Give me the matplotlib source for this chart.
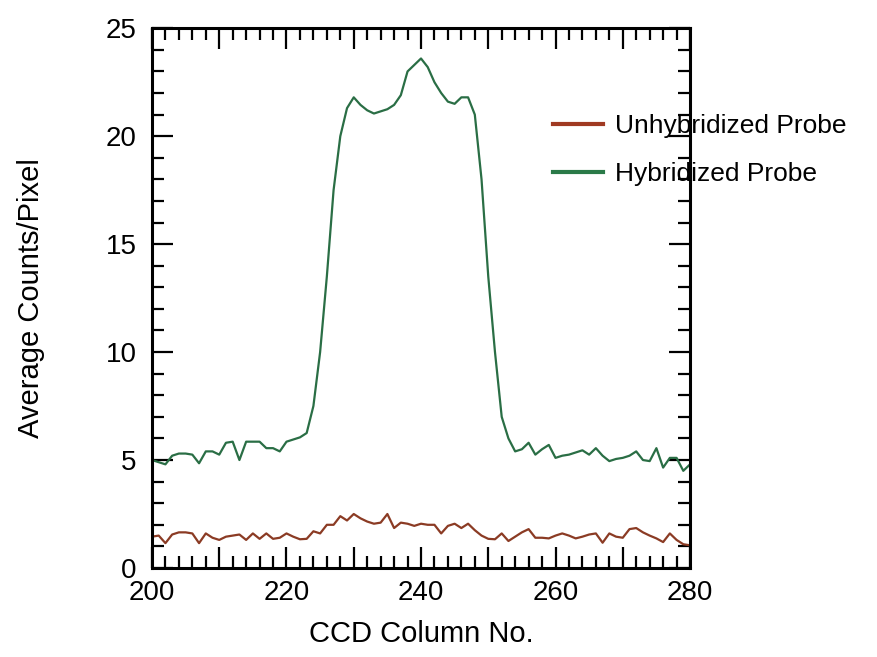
import matplotlib
matplotlib.use('Agg')
import matplotlib.pyplot as plt
from matplotlib.ticker import MultipleLocator, FuncFormatter

# CCD column positions and average counts per pixel
columns = list(range(200, 281))

hybridized = [
    5.0, 4.9, 4.8, 5.2, 5.3, 5.3, 5.25, 4.85, 5.4, 5.4,
    5.25, 5.8, 5.85, 5.0, 5.85, 5.85, 5.85, 5.55, 5.55, 5.4,
    5.85, 5.95, 6.05, 6.25, 7.5, 10.0, 13.5, 17.5, 20.0, 21.3,
    21.8, 21.45, 21.2, 21.05, 21.15, 21.25, 21.45, 21.9, 23.0, 23.3,
    23.6, 23.2, 22.5, 22.0, 21.6, 21.5, 21.8, 21.8, 21.0, 18.0,
    13.5, 10.0, 7.0, 6.0, 5.4, 5.5, 5.8, 5.25, 5.5, 5.7,
    5.1, 5.2, 5.25, 5.35, 5.45, 5.25, 5.55, 5.2, 4.95, 5.05,
    5.1, 5.2, 5.4, 5.0, 4.95, 5.55, 4.65, 5.1, 5.1, 4.5,
    4.8,
]

unhybridized = [
    1.45, 1.5, 1.15, 1.55, 1.65, 1.65, 1.6, 1.15, 1.6, 1.4,
    1.3, 1.45, 1.5, 1.55, 1.3, 1.6, 1.35, 1.6, 1.35, 1.4,
    1.6, 1.45, 1.33, 1.35, 1.7, 1.6, 2.0, 2.0, 2.4, 2.2,
    2.5, 2.3, 2.15, 2.05, 2.1, 2.5, 1.85, 2.1, 2.05, 1.95,
    2.05, 2.0, 2.0, 1.6, 1.95, 2.05, 1.85, 2.05, 1.75, 1.5,
    1.35, 1.33, 1.6, 1.25, 1.45, 1.65, 1.8, 1.4, 1.4, 1.37,
    1.5, 1.6, 1.5, 1.37, 1.45, 1.55, 1.6, 1.17, 1.6, 1.45,
    1.4, 1.8, 1.85, 1.65, 1.5, 1.37, 1.2, 1.6, 1.3, 1.1,
    1.05,
]

plt.rcParams['font.family'] = ['Liberation Sans', 'DejaVu Sans']

fig = plt.figure(figsize=(8.77, 6.57), dpi=100)
ax = fig.add_axes([0.1733, 0.1355, 0.6135, 0.8215])

ax.plot(columns, unhybridized, color='#8b3b24', lw=1.6, label='Unhybridized Probe')
ax.plot(columns, hybridized, color='#2a6e45', lw=1.6, label='Hybridized Probe')

ax.set_xlim(200, 280)
ax.set_ylim(0, 25)

ax.xaxis.set_major_locator(MultipleLocator(10))
ax.xaxis.set_minor_locator(MultipleLocator(2))
ax.xaxis.set_major_formatter(FuncFormatter(lambda v, p: f'{int(v)}' if int(v) % 20 == 0 else ''))
ax.yaxis.set_major_locator(MultipleLocator(5))
ax.yaxis.set_minor_locator(MultipleLocator(1))

ax.tick_params(which='both', direction='in', top=True, right=True,
               width=1.6, labelsize=20, colors='black')
ax.tick_params(which='major', length=15)
ax.tick_params(axis='x', which='major', pad=9)
ax.tick_params(axis='y', which='major', pad=11)
ax.tick_params(which='minor', length=8.5)

for s in ax.spines.values():
    s.set_linewidth(2.2)

ax.set_xlabel('CCD Column No.', fontsize=21, labelpad=10)
ax.set_ylabel('Average Counts/Pixel', fontsize=21, labelpad=44)

leg = ax.legend(loc='upper left', bbox_to_anchor=(0.603, 0.862),
                bbox_transform=fig.transFigure, frameon=False,
                fontsize=19, handlelength=1.9, handletextpad=0.45,
                labelspacing=0.9)
leg.get_lines()[0].set_color('#a03a22')
leg.get_lines()[1].set_color('#2a7a48')
for line in leg.get_lines():
    line.set_linewidth(3)

fig.savefig('out.png', dpi=100)
